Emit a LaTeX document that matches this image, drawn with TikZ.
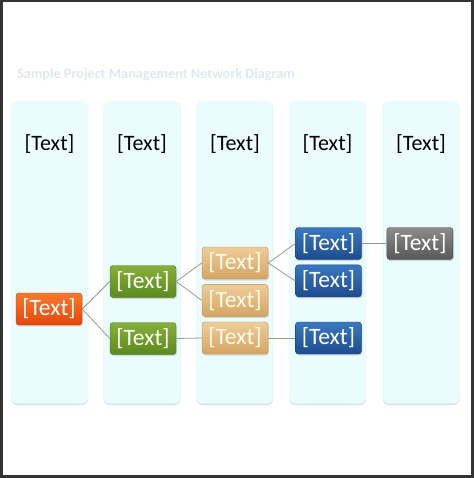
\documentclass[tikz,border=0pt]{standalone}
\usepackage{fontspec}
\setmainfont{Carlito}
\usetikzlibrary{positioning, shadows}

\definecolor{framegray}{HTML}{343434}
\definecolor{colfill}{HTML}{EAFCFE}
\definecolor{colshade}{HTML}{D3E4EA}
\definecolor{titlecol}{HTML}{DDE9F1}
\definecolor{linkgray}{HTML}{9E9A88}
\definecolor{orangetop}{HTML}{F8792E}
\definecolor{orangebot}{HTML}{E2470A}
\definecolor{orangeline}{HTML}{C23C06}
\definecolor{greentop}{HTML}{86B03A}
\definecolor{greenbot}{HTML}{5B8A1E}
\definecolor{greenline}{HTML}{4E7618}
\definecolor{tantop}{HTML}{F0CC98}
\definecolor{tanbot}{HTML}{D4A564}
\definecolor{tanline}{HTML}{B98C4E}
\definecolor{bluetop}{HTML}{3A78C0}
\definecolor{bluebot}{HTML}{1D4C8E}
\definecolor{blueline}{HTML}{173E76}
\definecolor{graytop}{HTML}{8C8C8C}
\definecolor{graybot}{HTML}{585858}
\definecolor{grayline}{HTML}{444444}

\begin{document}
\begin{tikzpicture}[x=1pt, y=-1pt,
    node distance=27pt,
    header/.style={font=\fontsize{22}{26}\selectfont, text=black},
    task/.style={rounded corners=3pt, minimum width=66pt, minimum height=32pt,
        inner sep=0pt, font=\fontsize{23.5}{26}\selectfont, text=white,
        drop shadow={opacity=0.25, shadow xshift=1pt, shadow yshift=-1.5pt}},
    orangetask/.style={task, draw=orangeline, top color=orangetop, bottom color=orangebot},
    greentask/.style={task, draw=greenline, top color=greentop, bottom color=greenbot},
    tantask/.style={task, draw=tanline, top color=tantop, bottom color=tanbot, text=white!92!yellow},
    bluetask/.style={task, draw=blueline, top color=bluetop, bottom color=bluebot},
    graytask/.style={task, draw=grayline, top color=graytop, bottom color=graybot},
    link/.style={draw=linkgray, line width=0.8pt}]

    % frame and page
    \fill[framegray] (0,0) rectangle (474,478);
    \fill[white] (3,2.5) rectangle (471,475);

    \node[font=\bfseries\fontsize{14.2}{16}\selectfont, text=titlecol, anchor=west, inner sep=0pt]
        (title) at (17,75) {Sample Project Management Network Diagram};

    % columns
    \foreach \x [count=\i] in {49.5,142,235,327.5,421} {
        \fill[colshade, rounded corners=6pt] (\x-38.5,102) rectangle (\x+38.5,405);
        \fill[colfill, rounded corners=6pt] (\x-38.5,101) rectangle (\x+38.5,403.5);
        \node[header] (h\i) at (\x,144) {[Text]};
    }

    % tasks
    \node[orangetask] (start) at (49,309)        {[Text]};
    \node[greentask]  (g1)    at (143,281.5)     {[Text]};
    \node[greentask]  (g2)    at (143,338.5)     {[Text]};
    \node[tantask]    (t1)    at (235,263)       {[Text]};
    \node[tantask]    (t2)    [below=5pt of t1]  {[Text]};
    \node[tantask]    (t3)    at (235,338)       {[Text]};
    \node[bluetask]   (b1)    at (328.5,243.5)   {[Text]};
    \node[bluetask]   (b2)    [below=5pt of b1]  {[Text]};
    \node[bluetask]   (b3)    [right=27pt of t3] {[Text]};
    \node[graytask]   (end)   [right=25pt of b1] {[Text]};

    \path[link]
    (start.east) edge (g1.west)
    (start.east) edge (g2.west)
    (g1.east)    edge (t1.west)
    (g1.east)    edge (t2.west)
    (g2.east)    edge (t3.west)
    (t1.east)    edge (b1.west)
    (t1.east)    edge (b2.west)
    (t3.east)    edge (b3.west)
    (b1.east)    edge (end.west)
    ;
\end{tikzpicture}
\end{document}
